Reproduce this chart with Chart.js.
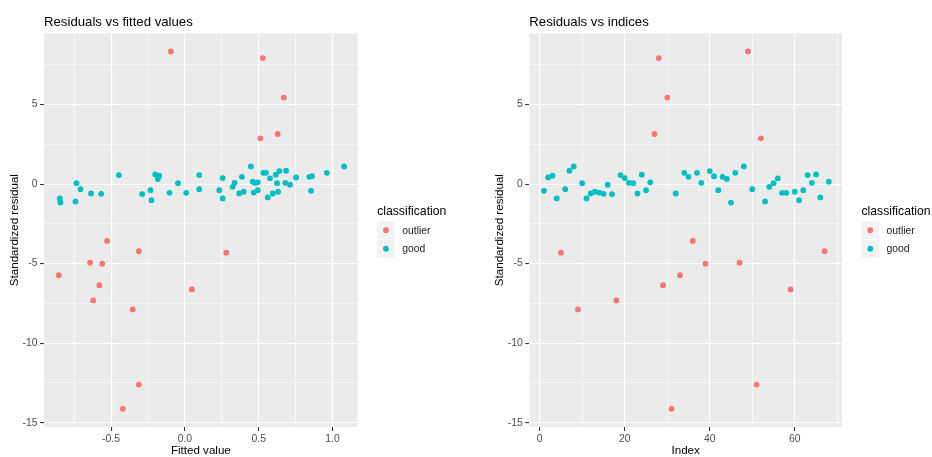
<!DOCTYPE html>
<html>
<head>
<meta charset="utf-8">
<script src="https://cdn.jsdelivr.net/npm/chart.js@4.4.1/dist/chart.umd.min.js"></script>
<style>
  html, body { margin: 0; padding: 0; background: #FFFFFF; }
  #wrap { position: relative; width: 932px; height: 457px; }
  .panel { position: absolute; top: 0; width: 466px; height: 457px; }
</style>
</head>
<body>
<div id="wrap">
  <div class="panel" style="left:0"><canvas id="fitted-chart" width="466" height="457"></canvas></div>
  <div class="panel" style="left:466px"><canvas id="index-chart" width="466" height="457"></canvas></div>
</div>
<script>
const residuals = [
  -0.42, 0.42, 0.53, -0.90, -4.31, -0.32, 0.84, 1.11, -7.88, 0.06,
  -0.90, -0.59, -0.48, -0.53, -0.61, -0.04, -0.63, -7.31, 0.57, 0.38,
  0.08, 0.06, -0.59, 0.59, -0.38, 0.11, 3.15, 7.92, -6.36, 5.44,
  -14.13, -0.59, -5.73, 0.71, 0.46, -3.57, 0.71, 0.08, -5.00, 0.82,
  0.50, -0.38, 0.46, 0.32, -1.16, 0.71, -4.94, 1.11, 8.34, -0.32,
  -12.60, 2.88, -1.09, -0.17, 0.06, 0.36, -0.55, -0.55, -6.62, -0.48,
  -1.01, -0.38, 0.57, 0.08, 0.61, -0.84, -4.22, 0.15
];
const fittedValues = [
  0.854, 0.753, -0.174, 0.256, 0.280, -0.707, 0.685, 0.447, -0.353, 0.624,
  -0.847, 0.595, 0.398, 0.466, -0.567, 0.712, -0.289, -0.621, -0.447, 0.256,
  0.337, -0.734, 0.368, 0.615, -0.233, 0.493, 0.628, 0.527, -0.579, 0.669,
  -0.420, -0.635, -0.854, 0.531, 0.386, -0.527, 0.549, 0.475, -0.560, 0.640,
  0.861, 0.233, 0.843, -0.183, -0.843, 0.961, -0.642, 1.078, -0.095, 0.097,
  -0.312, 0.511, -0.741, 0.323, -0.047, 0.576, -0.104, 0.009, 0.047, 0.631,
  -0.226, 0.493, 0.097, 0.680, -0.201, 0.561, -0.312, 0.459
];
const outlierIndices = [5, 9, 18, 27, 28, 29, 30, 31, 33, 36, 39, 47, 49, 51, 52, 59, 67];

const classes = ['outlier', 'good'];
const classColors = ['#F8766D', '#00BFC4'];

const yMajorTicks = [-15, -10, -5, 0, 5];
const yMinorTicks = [-12.5, -7.5, -2.5, 2.5, 7.5];
const fittedMajorTicks = [-0.5, 0, 0.5, 1.0];
const fittedMinorTicks = [-0.75, -0.25, 0.25, 0.75];
const indexMajorTicks = [0, 20, 40, 60];
const indexMinorTicks = [10, 30, 50, 70];

const FONT = '"Liberation Sans", Arial, sans-serif';

function classOf(i) {
    return outlierIndices.includes(i + 1) ? 'outlier' : 'good';
}

function buildDatasets(xOf) {
    return classes.map((cls, k) => ({
        label: cls,
        data: residuals
            .map((r, i) => ({ x: xOf(i), y: r, cls: classOf(i) }))
            .filter(p => p.cls === cls),
        backgroundColor: classColors[k],
        borderWidth: 0,
        pointRadius: 2.9,
        pointHoverRadius: 2.9
    }));
}

// grey panel, left-aligned title and ggplot-ish legend
const ggDecor = {
    id: 'ggDecor',
    beforeDraw(chart, args, opts) {
        const { ctx, chartArea: a } = chart;
        ctx.save();
        ctx.fillStyle = '#EBEBEB';
        ctx.fillRect(a.left, a.top, a.right - a.left, a.bottom - a.top);
        ctx.restore();
    },
    afterDraw(chart, args, opts) {
        const { ctx, chartArea: a } = chart;
        ctx.save();
        ctx.fillStyle = '#000000';
        ctx.textAlign = 'left';
        ctx.textBaseline = 'alphabetic';
        ctx.font = '13.2px ' + FONT;
        ctx.fillText(opts.title, a.left, 25.5);

        const lx = a.right + 19.5;
        ctx.font = '12.2px ' + FONT;
        ctx.fillText('classification', lx, 215);

        const key = 17.5;
        chart.data.datasets.forEach((ds, k) => {
            const top = 221.5 + k * (key + 1);
            ctx.fillStyle = '#F2F2F2';
            ctx.fillRect(lx, top, key, key);
            ctx.fillStyle = ds.backgroundColor;
            ctx.beginPath();
            ctx.arc(lx + key / 2, top + key / 2, 2.9, 0, Math.PI * 2);
            ctx.fill();
            ctx.fillStyle = '#1A1A1A';
            ctx.font = '10.4px ' + FONT;
            ctx.textBaseline = 'middle';
            ctx.fillText(ds.label, lx + key + 7.5, top + key / 2 + 0.5);
        });
        ctx.restore();
    }
};

function ggScale(major, minor, min, max, fmt, title, isY) {
    return {
        type: 'linear',
        min: min,
        max: max,
        afterBuildTicks: s => {
            s.ticks = major.concat(minor).sort((a, b) => a - b).map(v => ({ value: v }));
        },
        afterFit: s => {
            if (isY) s.width = 44; else s.height = 30;
        },
        border: { display: false },
        grid: {
            color: '#FFFFFF',
            lineWidth: c => major.includes(c.tick.value) ? 1.1 : 0.55,
            tickColor: c => major.includes(c.tick.value) ? '#333333' : 'rgba(0,0,0,0)',
            tickLength: 4,
            drawTicks: true
        },
        ticks: {
            autoSkip: false,
            maxRotation: 0,
            color: '#4D4D4D',
            font: { family: FONT, size: 10.4 },
            padding: isY ? 2.5 : 2,
            callback: v => major.includes(v) ? fmt(v) : ''
        },
        title: {
            display: true,
            text: title,
            color: '#000000',
            font: { family: FONT, size: 11.6 },
            padding: isY ? { top: 7.5, bottom: 0 } : { top: 0, bottom: -0.8 }
        }
    };
}

function ggOptions(titleText, xScale, padLeft, padRight) {
    return {
        responsive: false,
        devicePixelRatio: 1,
        animation: false,
        events: [],
        layout: { padding: { top: 33.3, left: padLeft, right: padRight, bottom: 0 } },
        scales: {
            x: xScale,
            y: ggScale(yMajorTicks, yMinorTicks, -15.27, 9.48, v => String(v), 'Standardized residual', true)
        },
        plugins: {
            legend: { display: false },
            tooltip: { enabled: false },
            ggDecor: { title: titleText }
        }
    };
}

const fittedChart = new Chart(document.getElementById('fitted-chart'), {
    type: 'scatter',
    data: { datasets: buildDatasets(i => fittedValues[i]) },
    options: ggOptions(
        'Residuals vs fitted values',
        ggScale(fittedMajorTicks, fittedMinorTicks, -0.954, 1.17, v => v.toFixed(1), 'Fitted value', false),
        0, 108.3
    ),
    plugins: [ggDecor]
});

const indexChart = new Chart(document.getElementById('index-chart'), {
    type: 'scatter',
    data: { datasets: buildDatasets(i => i + 1) },
    options: ggOptions(
        'Residuals vs indices',
        ggScale(indexMajorTicks, indexMinorTicks, -2.45, 71.1, v => String(v), 'Index', false),
        19.3, 90
    ),
    plugins: [ggDecor]
});
</script>
</body>
</html>
